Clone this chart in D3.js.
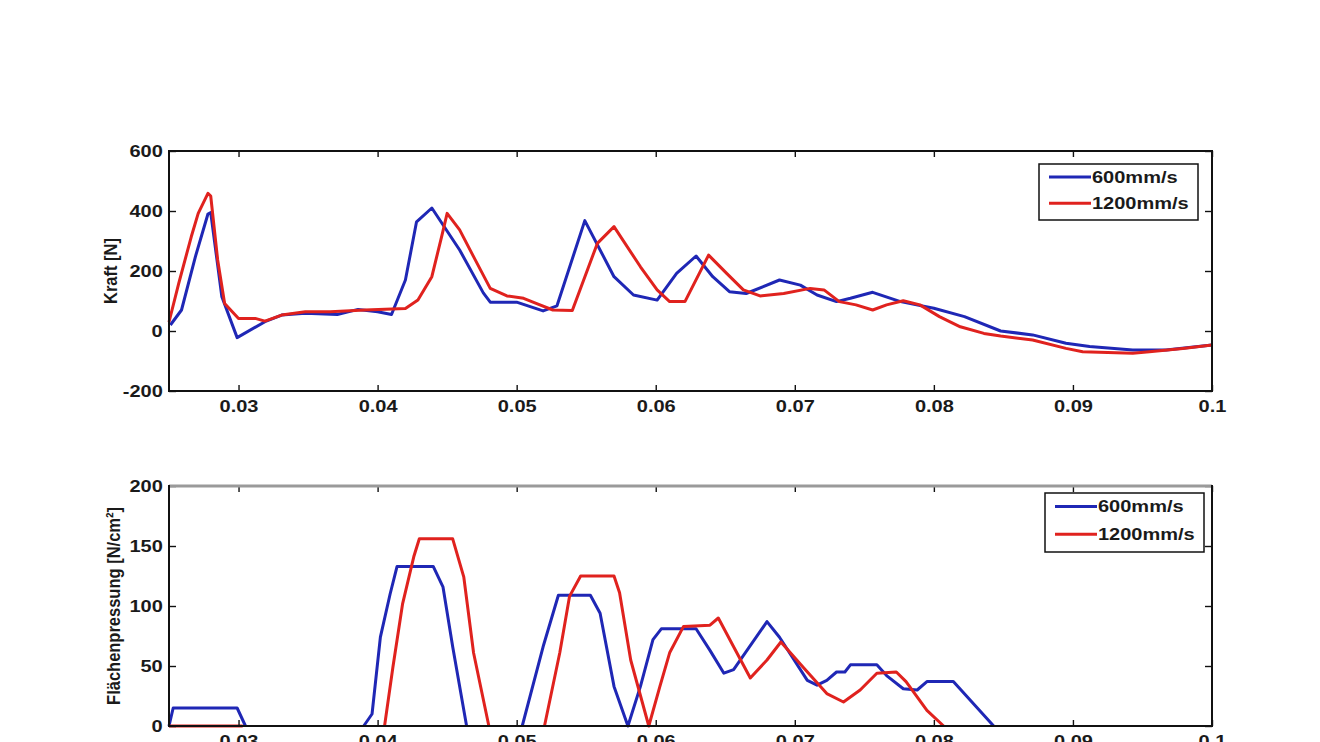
<!DOCTYPE html>
<html>
<head>
<meta charset="utf-8">
<script src="https://cdn.jsdelivr.net/npm/d3@7"></script>
<style>
  html, body { margin: 0; padding: 0; background: #fff; }
  svg text { font-family: "Liberation Sans", Arial, sans-serif; fill: #1a1a1a; font-weight: bold; }
</style>
</head>
<body>
<svg id="chart" width="1320" height="742"></svg>
<script>
// ---- data ----
const seriesNames = ["600mm/s", "1200mm/s"];
const seriesColors = ["#1f27b5", "#e0221e"];
const xTicks = [0.03, 0.04, 0.05, 0.06, 0.07, 0.08, 0.09, 0.1];
const kraftTicks = [-200, 0, 200, 400, 600];
const druckTicks = [0, 50, 100, 150, 200];

// Kraft [N], 600mm/s
const kraftT600 = [0.0251, 0.0259, 0.0269, 0.0278, 0.0280, 0.0288, 0.0299, 0.0319, 0.0331, 0.0348, 0.0371, 0.0386, 0.0400, 0.0410, 0.0420, 0.0428, 0.0439, 0.0459, 0.0476, 0.0481, 0.0500, 0.0519, 0.0529, 0.0549, 0.0570, 0.0584, 0.0601, 0.0615, 0.0629, 0.0641, 0.0653, 0.0665, 0.0689, 0.0704, 0.0716, 0.0730, 0.0740, 0.0756, 0.0776, 0.0800, 0.0822, 0.0848, 0.0871, 0.0895, 0.0912, 0.0943, 0.0967, 0.1000];
const kraftV600 = [20, 70, 248, 390, 395, 114, -22, 31, 53, 59, 55, 72, 64, 55, 170, 364, 410, 270, 127, 96, 96, 67, 84, 368, 181, 120, 103, 192, 250, 181, 131, 125, 170, 153, 120, 98, 109, 129, 98, 76, 48, 0, -13, -41, -52, -63, -63, -47];
// Kraft [N], 1200mm/s
const kraftT1200 = [0.0250, 0.0257, 0.0266, 0.0271, 0.0278, 0.0280, 0.0285, 0.0290, 0.0300, 0.0312, 0.0319, 0.0331, 0.0348, 0.0366, 0.0391, 0.0420, 0.0429, 0.0439, 0.0446, 0.0450, 0.0459, 0.0469, 0.0481, 0.0493, 0.0505, 0.0514, 0.0526, 0.0540, 0.0558, 0.0570, 0.0589, 0.0601, 0.0610, 0.0621, 0.0638, 0.0651, 0.0663, 0.0675, 0.0692, 0.0711, 0.0721, 0.0732, 0.0744, 0.0756, 0.0766, 0.0778, 0.0790, 0.0804, 0.0819, 0.0836, 0.0848, 0.0871, 0.0895, 0.0907, 0.0943, 0.0955, 0.0979, 0.1000];
const kraftV1200 = [30, 159, 314, 392, 459, 450, 237, 92, 42, 42, 33, 53, 64, 64, 70, 75, 103, 181, 314, 392, 337, 248, 142, 117, 109, 92, 70, 68, 292, 348, 214, 137, 98, 98, 253, 192, 137, 117, 125, 142, 137, 98, 87, 70, 87, 101, 87, 48, 14, -8, -17, -30, -58, -69, -74, -69, -58, -47];

// Flächenpressung [N/cm²], null = no visible line
const druckT600 = [0.0250, 0.0253, 0.0299, 0.0305, 0.0347, 0.0390, 0.0396, 0.0402, 0.0409, 0.0414, 0.0440, 0.0447, 0.0454, 0.0464, 0.0484, 0.0504, 0.0519, 0.0530, 0.0553, 0.0560, 0.0570, 0.0580, 0.0589, 0.0598, 0.0604, 0.0629, 0.0639, 0.0649, 0.0656, 0.0680, 0.0689, 0.0709, 0.0716, 0.0723, 0.0730, 0.0736, 0.0740, 0.0759, 0.0766, 0.0778, 0.0788, 0.0795, 0.0814, 0.0843];
const druckV600 = [0, 15, 15, 0, null, 0, 10, 74, 110, 133, 133, 116, 66, 0, null, 0, 66, 109, 109, 94, 33, 0, 33, 72, 81, 81, 63, 44, 47, 87, 74, 38, 34, 38, 45, 45, 51, 51, 42, 31, 30, 37, 37, 0];
const druckT1200 = [0.0250, 0.0303, 0.0350, 0.0405, 0.0411, 0.0418, 0.0426, 0.0430, 0.0454, 0.0462, 0.0469, 0.0480, 0.0500, 0.0520, 0.0531, 0.0538, 0.0546, 0.0570, 0.0574, 0.0582, 0.0595, 0.0603, 0.0610, 0.0620, 0.0639, 0.0645, 0.0656, 0.0668, 0.0680, 0.0690, 0.0706, 0.0723, 0.0735, 0.0747, 0.0759, 0.0773, 0.0780, 0.0795, 0.0807];
const druckV1200 = [0, 0, null, 0, 49, 102, 141, 156, 156, 124, 61, 0, null, 0, 61, 108, 125, 125, 111, 55, 0, 33, 61, 83, 84, 90, 66, 40, 55, 70, 49, 27, 20, 30, 44, 45, 37, 13, 0];

// ---- layout ----
const svg = d3.select("#chart");
const font = 16, stretch = 1.25;   // picture is stretched sideways
const x = d3.scaleLinear().domain([0.025, 0.1]).range([169, 1212]);

const panels = [
  { top: 151, bottom: 391, domain: [-200, 600], yTicks: kraftTicks, label: "Kraft [N]", labelX: 110,
    series: [[kraftT600, kraftV600], [kraftT1200, kraftV1200]],
    legend: { x: 1039, y: 164, w: 159, h: 56 }, topBorder: "#111" },
  { top: 486, bottom: 726, domain: [0, 200], yTicks: druckTicks, label: "Flächenpressung [N/cm²]", labelX: 113,
    series: [[druckT600, druckV600], [druckT1200, druckV1200]],
    legend: { x: 1045, y: 493, w: 159, h: 59 }, topBorder: "#9a9a9a" }
];

function stretchText(sel) {
  sel.attr("transform", function () {
    const t = d3.select(this).attr("transform") || "";
    return t + " scale(" + stretch + ",1)";
  });
}

panels.forEach(p => {
  const y = d3.scaleLinear().domain(p.domain).range([p.bottom, p.top]);
  const g = svg.append("g");
  const x0 = x.range()[0], x1 = x.range()[1];

  // lines
  p.series.forEach((s, i) => {
    const pts = s[0].map((t, k) => ({ t: t, v: s[1][k] }));
    const line = d3.line()
      .defined(d => d.v !== null)
      .x(d => x(d.t))
      .y(d => y(d.v));
    g.append("path")
      .attr("d", line(pts))
      .attr("fill", "none")
      .attr("stroke", seriesColors[i])
      .attr("stroke-width", 3)
      .attr("stroke-linejoin", "round");
  });

  // axes, matlab style ticks inside
  const bottomAxis = d3.axisBottom(x).tickValues(xTicks).tickSize(-6).tickSizeOuter(0)
    .tickPadding(10).tickFormat(d => String(d));
  const ax = g.append("g").attr("transform", "translate(0," + p.bottom + ")").call(bottomAxis);
  ax.selectAll("text").style("font-size", font + "px").call(stretchText);

  g.append("g").attr("transform", "translate(0," + p.top + ")")
    .call(d3.axisTop(x).tickValues(xTicks).tickSize(-6).tickSizeOuter(0).tickFormat(""));

  const ay = g.append("g").attr("transform", "translate(" + x0 + ",0)")
    .call(d3.axisLeft(y).tickValues(p.yTicks).tickSize(-7).tickSizeOuter(0).tickPadding(5).tickFormat(d => String(d)));
  ay.selectAll("text").style("font-size", font + "px").call(stretchText);

  g.append("g").attr("transform", "translate(" + x1 + ",0)")
    .call(d3.axisRight(y).tickValues(p.yTicks).tickSize(-7).tickSizeOuter(0).tickFormat(""));

  g.selectAll(".domain").remove();
  g.selectAll(".tick line").attr("stroke", "#111").attr("stroke-width", 1.4);

  // box
  g.append("line").attr("x1", x0).attr("x2", x1).attr("y1", p.top).attr("y2", p.top)
    .attr("stroke", p.topBorder).attr("stroke-width", p.topBorder === "#111" ? 1.8 : 3);
  g.append("line").attr("x1", x0).attr("x2", x1).attr("y1", p.bottom).attr("y2", p.bottom)
    .attr("stroke", "#111").attr("stroke-width", 2);
  g.append("line").attr("x1", x0).attr("x2", x0).attr("y1", p.top - 1).attr("y2", p.bottom + 1)
    .attr("stroke", "#111").attr("stroke-width", 2);
  g.append("line").attr("x1", x1).attr("x2", x1).attr("y1", p.top - 1).attr("y2", p.bottom + 1)
    .attr("stroke", "#111").attr("stroke-width", 2);

  // y label
  g.append("text")
    .attr("transform", "translate(" + p.labelX + "," + ((p.top + p.bottom) / 2) + ") scale(1.15,1) rotate(-90)")
    .attr("text-anchor", "middle")
    .attr("dy", "0.35em")
    .style("font-size", "16.5px")
    .text(p.label);

  // legend
  const L = p.legend;
  const lg = g.append("g");
  lg.append("rect").attr("x", L.x).attr("y", L.y).attr("width", L.w).attr("height", L.h)
    .attr("fill", "#fff").attr("stroke", "#111").attr("stroke-width", 1.5);
  seriesNames.forEach((name, i) => {
    const ly = L.y + L.h * (i === 0 ? 0.23 : 0.7);
    lg.append("line").attr("x1", L.x + 10).attr("x2", L.x + 52).attr("y1", ly).attr("y2", ly)
      .attr("stroke", seriesColors[i]).attr("stroke-width", 3);
    lg.append("text")
      .attr("transform", "translate(" + (L.x + 53) + "," + ly + ") scale(" + stretch + ",1)")
      .attr("dy", "0.36em")
      .style("font-size", font + "px")
      .text(name);
  });
});
</script>
</body>
</html>
